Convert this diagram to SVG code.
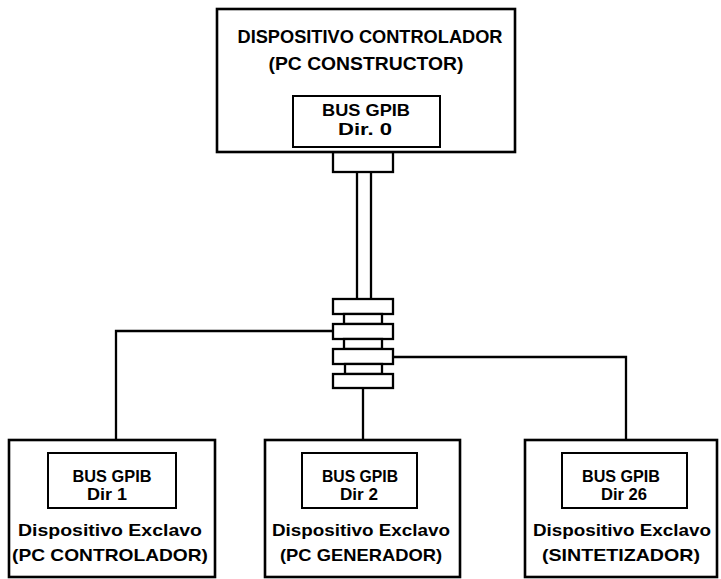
<svg xmlns="http://www.w3.org/2000/svg" width="721" height="579" viewBox="0 0 721 579">
<style>
.box{fill:#fff;stroke:#000;stroke-width:2.6}
.inner{fill:#fff;stroke:#000;stroke-width:2}
.ln{fill:none;stroke:#000;stroke-width:2.3}
.conn{fill:#fff;stroke:#000;stroke-width:2.3}
text{font-family:"Liberation Sans",Arial,sans-serif;font-weight:bold;fill:#000;text-anchor:middle}
.t1{font-size:19px}
.t2{font-size:17px}
</style>
<rect width="721" height="579" fill="#fff"/>
<g id="connectors">
<rect class="conn" x="333" y="152" width="60" height="20"/>
<line class="ln" x1="357" y1="172" x2="357" y2="299"/>
<line class="ln" x1="371" y1="172" x2="371" y2="299"/>
<polyline class="ln" points="333,331 116,331 116,440"/>
<polyline class="ln" points="393,357 626,357 626,440"/>
<line class="ln" x1="363" y1="389" x2="363" y2="440"/>
<rect class="conn" x="333" y="299" width="60" height="15"/>
<rect class="conn" x="344" y="314" width="38" height="10"/>
<rect class="conn" x="333" y="324" width="60" height="15"/>
<rect class="conn" x="344" y="339" width="38" height="10"/>
<rect class="conn" x="333" y="349" width="60" height="15"/>
<rect class="conn" x="345" y="364" width="37" height="10"/>
<rect class="conn" x="333" y="374" width="60" height="14"/>
</g>
<g id="controlador">
<rect class="box" x="217" y="9" width="298" height="143"/>
<text class="t1" x="370" y="43" textLength="265" lengthAdjust="spacingAndGlyphs">DISPOSITIVO CONTROLADOR</text>
<text class="t1" x="366" y="70" textLength="195" lengthAdjust="spacingAndGlyphs">(PC CONSTRUCTOR)</text>
<rect class="inner" x="293" y="96" width="147" height="51"/>
<text class="t2" x="366" y="116" textLength="88" lengthAdjust="spacingAndGlyphs">BUS GPIB</text>
<text class="t2" x="365" y="135" textLength="54" lengthAdjust="spacingAndGlyphs">Dir. 0</text>
</g>
<g id="esclavo1">
<rect class="box" x="9" y="440" width="206" height="137"/>
<rect class="inner" x="48" y="453" width="128" height="55"/>
<text class="t2" x="112" y="482" textLength="79" lengthAdjust="spacingAndGlyphs">BUS GPIB</text>
<text class="t2" x="107" y="500" textLength="40" lengthAdjust="spacingAndGlyphs">Dir 1</text>
<text class="t2" x="110" y="536" textLength="184" lengthAdjust="spacingAndGlyphs">Dispositivo Exclavo</text>
<text class="t2" x="110" y="561" textLength="196" lengthAdjust="spacingAndGlyphs">(PC CONTROLADOR)</text>
</g>
<g id="esclavo2">
<rect class="box" x="265" y="440" width="195" height="137"/>
<rect class="inner" x="302" y="453" width="115" height="55"/>
<text class="t2" x="360" y="482" textLength="76" lengthAdjust="spacingAndGlyphs">BUS GPIB</text>
<text class="t2" x="359" y="500" textLength="38" lengthAdjust="spacingAndGlyphs">Dir 2</text>
<text class="t2" x="361" y="536" textLength="178" lengthAdjust="spacingAndGlyphs">Dispositivo Exclavo</text>
<text class="t2" x="361" y="561" textLength="162" lengthAdjust="spacingAndGlyphs">(PC GENERADOR)</text>
</g>
<g id="esclavo3">
<rect class="box" x="525" y="440" width="192" height="137"/>
<rect class="inner" x="562" y="453" width="125" height="55"/>
<text class="t2" x="621" y="482" textLength="78" lengthAdjust="spacingAndGlyphs">BUS GPIB</text>
<text class="t2" x="624" y="500" textLength="46" lengthAdjust="spacingAndGlyphs">Dir 26</text>
<text class="t2" x="622" y="536" textLength="178" lengthAdjust="spacingAndGlyphs">Dispositivo Exclavo</text>
<text class="t2" x="621" y="561" textLength="158" lengthAdjust="spacingAndGlyphs">(SINTETIZADOR)</text>
</g>
</svg>
